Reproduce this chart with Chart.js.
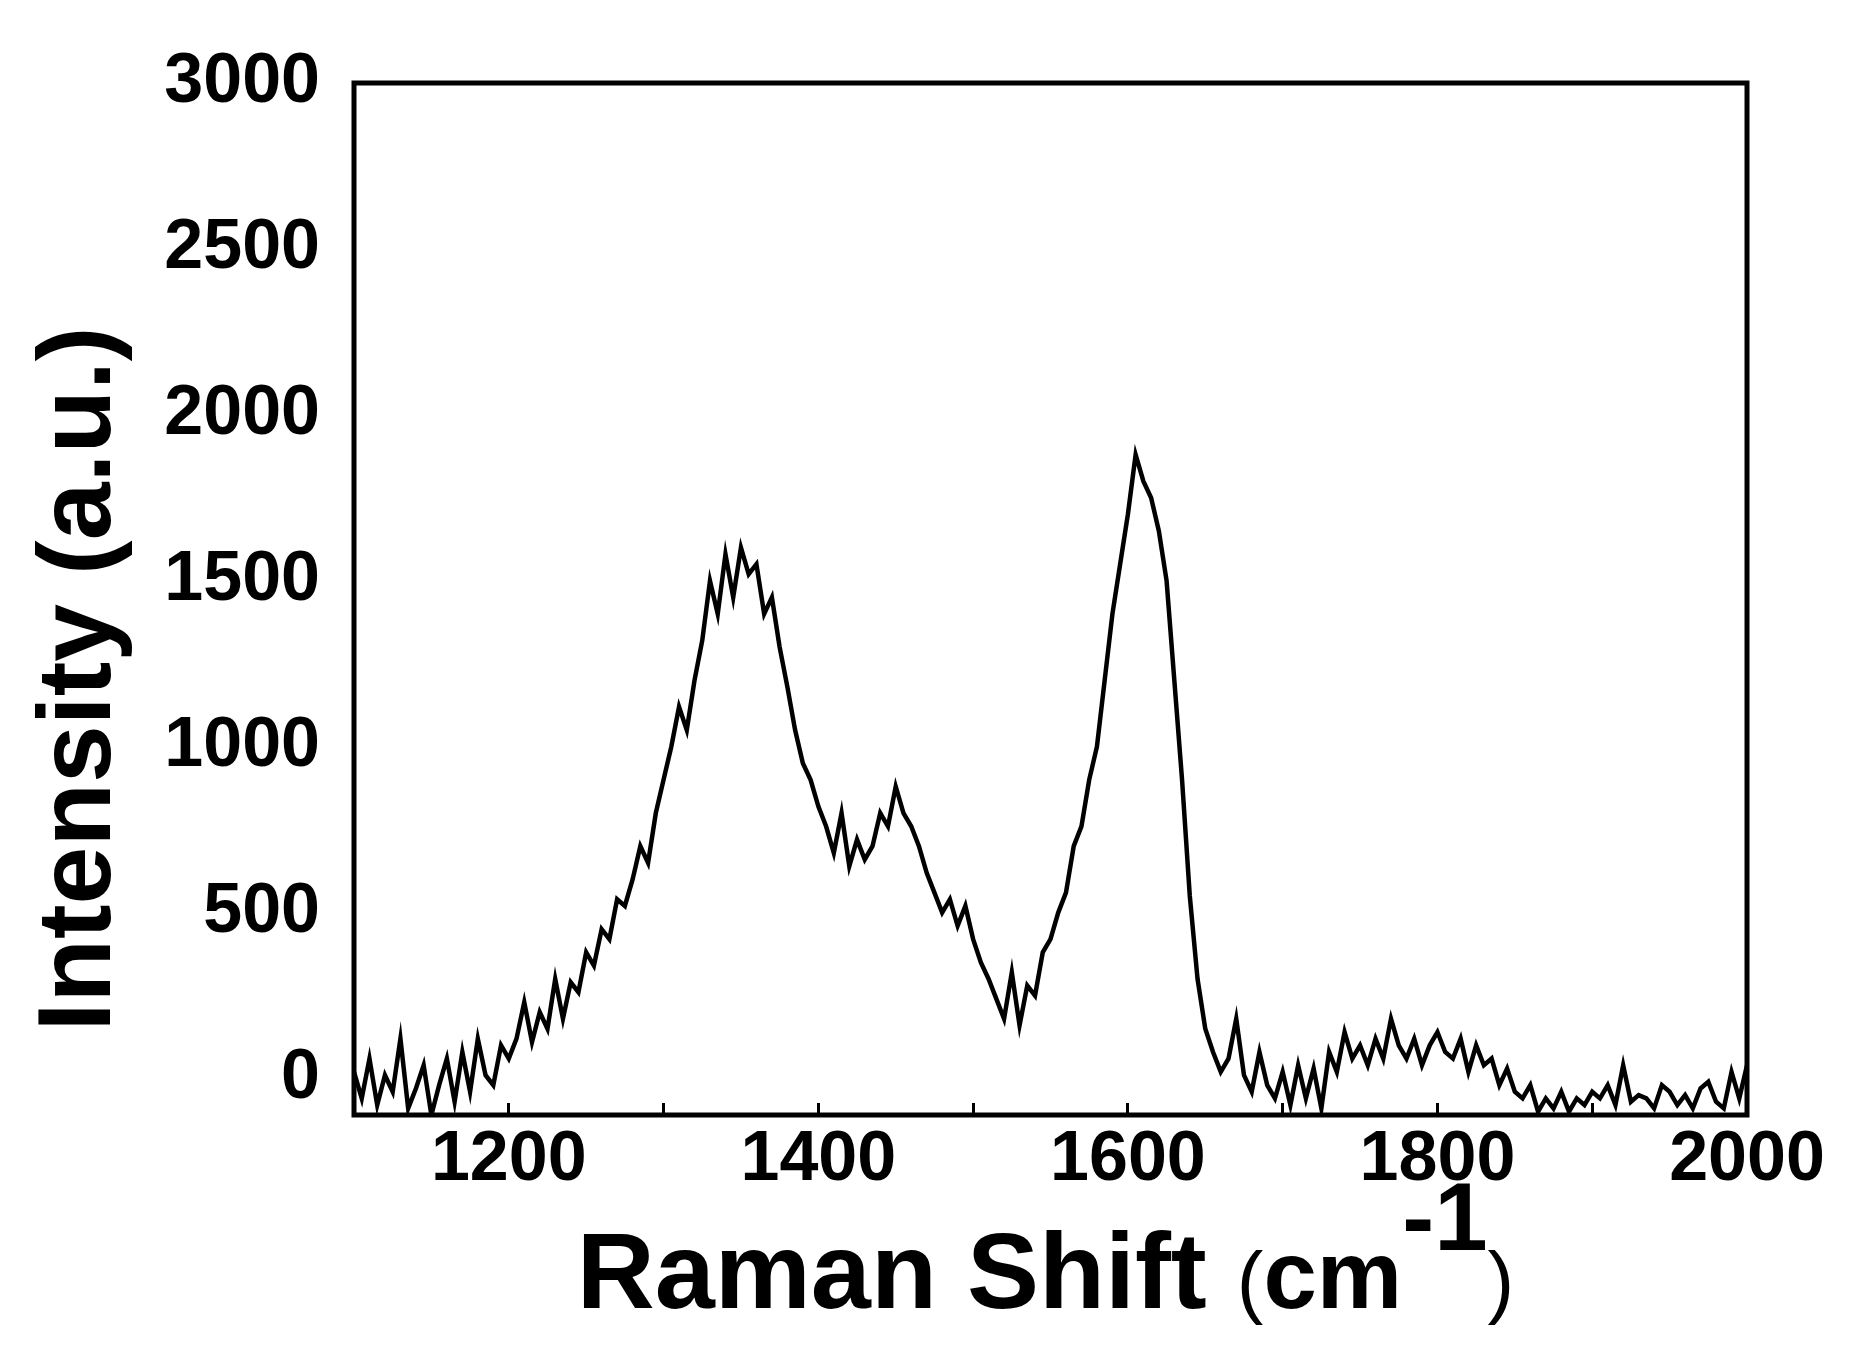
<!DOCTYPE html>
<html><head><meta charset="utf-8">
<script src="https://cdn.jsdelivr.net/npm/chart.js@4"></script>
<style>html,body{margin:0;background:#fff}#wrap{width:1854px;height:1349px}</style>
</head><body><div id="wrap"><canvas id="c"></canvas></div>
<script>
const xStart = 1100, xStep = 5;
const intensity = [
  20,-60,60,-80,10,-40,120,-90,-30,40,-110,-20,60,-70,80,-40,120,10,-20,100,
  60,120,230,110,200,150,300,180,290,260,380,340,450,420,540,520,600,700,650,800,
  900,1000,1120,1050,1200,1320,1500,1400,1580,1450,1600,1520,1550,1400,1450,1300,1180,1050,950,900,
  820,760,680,800,640,720,660,700,800,760,880,800,760,700,620,560,500,540,460,520,
  420,350,300,240,180,320,160,280,250,380,420,500,560,700,760,900,1000,1200,1400,1550,
  1700,1880,1800,1750,1650,1500,1200,900,550,300,150,80,20,60,180,10,-40,80,-20,-60,
  20,-80,40,-60,30,-90,80,20,140,60,100,40,120,60,180,100,60,120,40,100,
  140,80,60,120,20,100,40,60,-20,30,-40,-60,-20,-100,-60,-90,-40,-100,-60,-80,
  -40,-60,-20,-80,40,-70,-50,-60,-90,-20,-40,-80,-50,-90,-30,-10,-70,-90,20,-60,
  40
];
const points = intensity.map((v, i) => ({x: xStart + i * xStep, y: v}));
const font = '"Liberation Sans", Arial, sans-serif';

const frame = {
  id: 'frame',
  afterDraw(chart) {
    const {ctx, chartArea: a} = chart;
    ctx.save();
    ctx.strokeStyle = '#000'; ctx.lineWidth = 5;
    ctx.strokeRect(a.left, a.top, a.right - a.left, a.bottom - a.top);
    // x title with superscript
    ctx.fillStyle = '#000'; ctx.textBaseline = 'alphabetic';
    const parts = [['Raman Shift ', 'bold 108px', 0], ['(', '80px', 0], ['cm', 'bold 96px', 0], ['-1', 'bold 96px', -58], [')', '80px', 0]];
    let w = 0;
    parts.forEach(p => { ctx.font = p[1] + ' ' + font; w += ctx.measureText(p[0]).width; });
    let x = (a.left + a.right) / 2 - w / 2 - 5;
    parts.forEach(p => { ctx.font = p[1] + ' ' + font; ctx.fillText(p[0], x, 1308 + p[2]); x += ctx.measureText(p[0]).width; });
    // y title
    ctx.translate(110, (a.top + a.bottom) / 2 + 80);
    ctx.rotate(-Math.PI / 2);
    ctx.font = 'bold 104px ' + font; ctx.textAlign = 'center';
    ctx.fillText('Intensity (a.u.)', 0, 0);
    ctx.restore();
  }
};

new Chart(document.getElementById('c'), {
  type: 'line',
  data: { datasets: [{ data: points, borderColor: '#000', borderWidth: 4.5, pointRadius: 0, tension: 0 }] },
  options: {
    responsive: true, maintainAspectRatio: false, animation: false,
    layout: { padding: { top: 83, right: 107 } },
    plugins: { legend: { display: false }, tooltip: { enabled: false } },
    scales: {
      x: {
        type: 'linear', min: 1100, max: 2000,
        afterBuildTicks: s => { s.ticks = [1200,1300,1400,1500,1600,1700,1800,1900,2000].map(v => ({value: v})); },
        afterFit: s => { s.height = 234; },
        grid: { display: true, drawOnChartArea: false, drawTicks: true, tickLength: -12, tickWidth: 3, color: '#000' },
        border: { display: false },
        ticks: { color: '#000', font: { family: font, size: 70, weight: 'bold' }, padding: 16, maxRotation: 0,
          callback: v => v % 200 === 0 ? String(v) : '' }
      },
      y: {
        min: -110, max: 3000,
        afterBuildTicks: s => { s.ticks = [0,500,1000,1500,2000,2500,3000].map(v => ({value: v})); },
        afterFit: s => { s.width = 354; },
        grid: { display: false },
        border: { display: false },
        ticks: { color: '#000', font: { family: font, size: 70, weight: 'bold' }, padding: 26,
          callback: v => String(v) }
      }
    }
  },
  plugins: [frame]
});
</script></body></html>
